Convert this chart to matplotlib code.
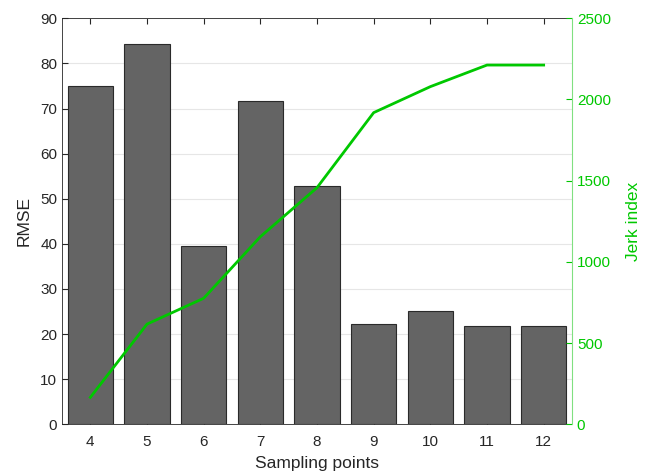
import numpy as np
import matplotlib
matplotlib.use('Agg')
import matplotlib.pyplot as plt

plt.rcParams['font.family'] = ['Liberation Sans', 'DejaVu Sans']

points = [4, 5, 6, 7, 8, 9, 10, 11, 12]
rmse = [75.0, 84.2, 39.5, 71.7, 52.9, 22.2, 25.1, 21.7, 21.7]
jerk = [166, 617, 776, 1155, 1457, 1919, 2079, 2212, 2212]

green = '#00c800'
dark = '#262626'

fig = plt.figure(figsize=(6.48, 4.76), dpi=100)
ax = fig.add_axes([0.0957, 0.1086, 0.787, 0.853])

ax.bar(points, rmse, width=0.8, color='#646464', edgecolor='#2a2a2a', linewidth=0.8, zorder=2)
ax.set_xlim(3.5, 12.5)
ax.set_ylim(0, 90)
ax.set_yticks(np.arange(0, 91, 10))
ax.set_xticks(points)
ax.grid(axis='y', color='#e6e6e6', linewidth=0.8, zorder=0)
ax.set_axisbelow(True)
ax.tick_params(direction='in', top=True, labelsize=11, colors=dark, length=4)
ax.tick_params(axis='x', pad=8)
ax.set_xlabel('Sampling points', fontsize=12.5, color=dark, labelpad=5)
ax.set_ylabel('RMSE', fontsize=12.5, color=dark, labelpad=6)
for s in ['left', 'bottom', 'top']:
    ax.spines[s].set_color('#262626')
    ax.spines[s].set_linewidth(0.6)
ax.spines['right'].set_visible(False)

ax2 = ax.twinx()
ax2.plot(points, jerk, color=green, linewidth=2, zorder=3)
ax2.set_ylim(0, 2500)
ax2.set_yticks(np.arange(0, 2501, 500))
ax2.tick_params(direction='in', labelsize=11, colors=green, length=4)
ax2.set_ylabel('Jerk index', fontsize=12.5, color=green, labelpad=11)
ax2.spines['right'].set_color('#80e080')
ax2.spines['right'].set_linewidth(0.8)
for s in ['left', 'bottom', 'top']:
    ax2.spines[s].set_visible(False)

fig.savefig('out.png', dpi=100)
plt.close('all')
